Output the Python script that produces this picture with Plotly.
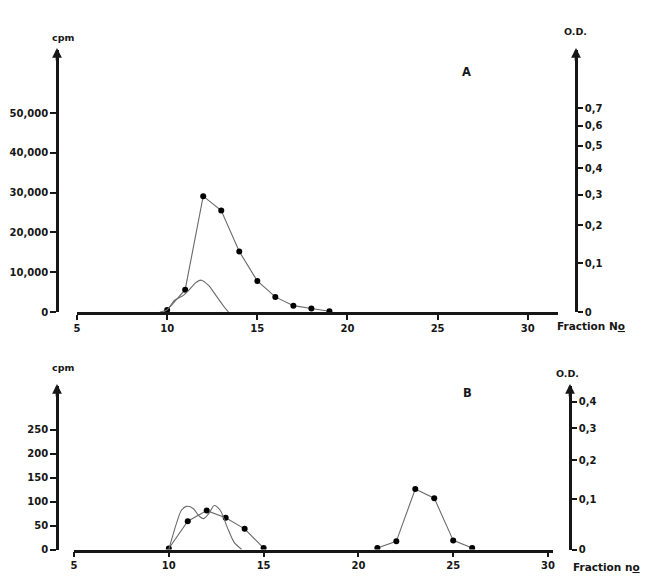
import math
import plotly.graph_objects as go

# ---------------- data ----------------
# Panel A
a_cpm_fraction = [10, 11, 12, 13, 14, 15, 16, 17, 18, 19]
a_cpm_values = [500, 5600, 29100, 25500, 15200, 7800, 3800, 1600, 900, 200]
a_od_fraction = [9.6, 10.0, 10.4, 10.9, 11.2, 11.6, 11.9, 12.3, 12.7, 13.1, 13.4]
a_od_values = [0.0, 0.004, 0.021, 0.031, 0.041, 0.057, 0.062, 0.051, 0.031, 0.012, 0.0]

# Panel B
b_cpm_fraction_1 = [10, 11, 12, 13, 14, 15]
b_cpm_values_1 = [2, 59, 81, 66, 43, 3]
b_cpm_fraction_2 = [21, 22, 23, 24, 25, 26]
b_cpm_values_2 = [3, 17, 126, 107, 19, 3]
b_od_fraction = [10.0, 10.4, 10.66, 10.93, 11.3, 11.56, 11.83, 12.1, 12.4, 12.72, 13.08, 13.44, 13.85]
b_od_values = [0.0, 0.048, 0.075, 0.084, 0.079, 0.065, 0.058, 0.068, 0.086, 0.075, 0.041, 0.013, 0.0]

# ticks
x_ticks = [5, 10, 15, 20, 25, 30]
a_cpm_ticks = [0, 10000, 20000, 30000, 40000, 50000]
a_cpm_ticktext = ["0", "10,000", "20,000", "30,000", "40,000", "50,000"]
a_od_ticks = [0, 0.1, 0.2, 0.3, 0.4, 0.5, 0.6, 0.7]
b_cpm_ticks = [0, 50, 100, 150, 200, 250]
b_od_ticks = [0, 0.1, 0.2, 0.3, 0.4]

# The O.D. scale of the original is compressed (log of O.D. + offset)
OD_OFFSET = 0.3

W, H = 664, 586
PAGE_MARGIN = 8  # default body margin of the html page


def px_x(p):
    return (p - PAGE_MARGIN) / W


def px_y(p):
    return 1 - (p - PAGE_MARGIN) / H


def od_label(v):
    return "0" if v == 0 else ("%.1f" % v).replace(".", ",")


INK = "#161616"
FONT = dict(family="DejaVu Sans, Verdana, sans-serif", size=10, color=INK, weight="bold")
CURVE = "#6a6a6a"

fig = go.Figure()

# Panel A traces
fig.add_trace(go.Scatter(
    x=a_od_fraction, y=[v + OD_OFFSET for v in a_od_values],
    mode="lines", line=dict(color=CURVE, width=1.1, shape="spline", smoothing=0.8),
    xaxis="x", yaxis="y2", showlegend=False, hoverinfo="skip"))
fig.add_trace(go.Scatter(
    x=a_cpm_fraction, y=a_cpm_values,
    mode="lines+markers", line=dict(color=CURVE, width=1.1),
    marker=dict(color="black", size=6),
    xaxis="x", yaxis="y", showlegend=False))

# Panel B traces
fig.add_trace(go.Scatter(
    x=b_od_fraction, y=[v + OD_OFFSET for v in b_od_values],
    mode="lines", line=dict(color=CURVE, width=1.1, shape="spline", smoothing=0.8),
    xaxis="x2", yaxis="y4", showlegend=False, hoverinfo="skip"))
for fx, fy in [(b_cpm_fraction_1, b_cpm_values_1), (b_cpm_fraction_2, b_cpm_values_2)]:
    fig.add_trace(go.Scatter(
        x=fx, y=fy,
        mode="lines+markers", line=dict(color=CURVE, width=1.1),
        marker=dict(color="black", size=6),
        xaxis="x2", yaxis="y3", showlegend=False))

# geometry (pixels in the 664x586 picture)
A_BOTTOM, A_TOP = 312, 50
B_BOTTOM, B_TOP = 549.5, 386
A_X0, A_X1 = 77, 558
B_X0, B_X1 = 74, 553
A_PX_PER_FRACTION = 18.03
B_PX_PER_FRACTION = 18.96
A_PX_PER_CPM = 39.8 / 10000
B_PX_PER_CPM = 0.48
A_PX_PER_DECADE = 390
B_PX_PER_DECADE = 402
CPM_AXIS_X = 57
A_OD_AXIS_X = 576
B_OD_AXIS_X = 570

common_axis = dict(showgrid=False, zeroline=False, showline=True, linecolor=INK,
                   linewidth=2.6, ticks="outside", tickcolor=INK, tickwidth=2,
                   tickfont=FONT, fixedrange=True)

a_h = A_BOTTOM - A_TOP
b_h = B_BOTTOM - B_TOP
lo = math.log10(OD_OFFSET)

fig.update_layout(
    width=W, height=H,
    margin=dict(l=0, r=0, t=0, b=0, autoexpand=False),
    paper_bgcolor="white", plot_bgcolor="white",
    xaxis=dict(common_axis, domain=[px_x(A_X0), px_x(A_X1)],
               range=[5, 5 + (A_X1 - A_X0) / A_PX_PER_FRACTION],
               tickvals=x_ticks, ticklen=5, anchor="y"),
    yaxis=dict(common_axis, domain=[px_y(A_BOTTOM), px_y(A_TOP)],
               range=[0, a_h / A_PX_PER_CPM], tickvals=a_cpm_ticks,
               ticktext=a_cpm_ticktext, ticklen=6, anchor="free",
               position=px_x(CPM_AXIS_X)),
    yaxis2=dict(common_axis, type="log", overlaying="y", side="right",
                anchor="free", position=px_x(A_OD_AXIS_X),
                range=[lo, lo + a_h / A_PX_PER_DECADE],
                tickvals=[t + OD_OFFSET for t in a_od_ticks],
                ticktext=[od_label(t) for t in a_od_ticks], ticklen=5),
    xaxis2=dict(common_axis, domain=[px_x(B_X0), px_x(B_X1)],
                range=[5, 5 + (B_X1 - B_X0) / B_PX_PER_FRACTION],
                tickvals=x_ticks, ticklen=5, anchor="y3"),
    yaxis3=dict(common_axis, domain=[px_y(B_BOTTOM), px_y(B_TOP)],
                range=[0, b_h / B_PX_PER_CPM], tickvals=b_cpm_ticks,
                ticklen=6, anchor="free", position=px_x(CPM_AXIS_X)),
    yaxis4=dict(common_axis, type="log", overlaying="y3", side="right",
                anchor="free", position=px_x(B_OD_AXIS_X),
                range=[lo, lo + b_h / B_PX_PER_DECADE],
                tickvals=[t + OD_OFFSET for t in b_od_ticks],
                ticktext=[od_label(t) for t in b_od_ticks], ticklen=5),
)

annotations = []


def label(text, xp, yp, size=10.5):
    annotations.append(dict(text=text, x=px_x(xp), y=px_y(yp), xref="paper", yref="paper",
                            showarrow=False, xanchor="center", yanchor="middle",
                            font=dict(FONT, size=size)))


def arrow(xp, yp):
    annotations.append(dict(text="", x=px_x(xp), y=px_y(yp), xref="paper", yref="paper",
                            showarrow=True, ax=0, ay=14, arrowhead=2, arrowsize=0.75,
                            arrowwidth=2.6, arrowcolor=INK))


label("cpm", 63, 38, 9.5)
label("O.D.", 575, 32, 9.5)
label("A", 466, 72, 11.5)
label("Fraction N<u>o</u>", 591, 326)
label("cpm", 63, 367, 9.5)
label("O.D.", 567, 373, 9.5)
label("B", 467, 393, 11.5)
label("Fraction n<u>o</u>", 606, 567)

arrow(CPM_AXIS_X, A_TOP - 2)
arrow(A_OD_AXIS_X, A_TOP - 2)
arrow(CPM_AXIS_X, B_TOP - 2)
arrow(B_OD_AXIS_X, B_TOP - 2)

fig.update_layout(annotations=annotations)

fig.write_html("out.html")
